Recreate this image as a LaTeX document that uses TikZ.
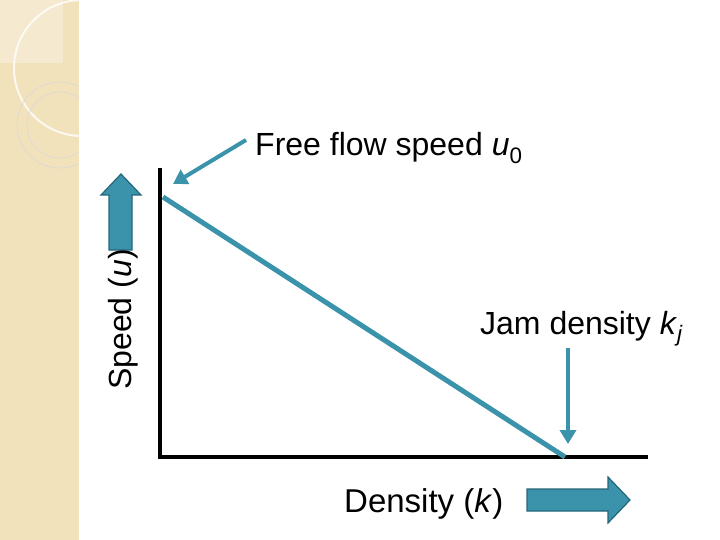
\documentclass[tikz,border=0pt]{standalone}
\usepackage{fontspec}
\setmainfont{Liberation Sans}
\usetikzlibrary{arrows.meta}
\definecolor{teal1}{RGB}{58,147,170}
\definecolor{tealdk}{RGB}{38,102,122}
\definecolor{beige}{RGB}{242,226,188}
\tikzset{lbl/.style={font=\fontsize{32}{36}\selectfont, inner sep=0pt, anchor=base west},
 blockarr/.style={fill=teal1, draw=tealdk, line width=1.2pt},
 thinarr/.style={draw=teal1, line width=4pt, -{Triangle[length=14pt,width=16pt]}}}
\begin{document}
\begin{tikzpicture}[x=1pt,y=-1pt]
\useasboundingbox (0,0) rectangle (720,540);
\fill[beige] (0,0) rectangle (79,540);
\begin{scope}
\clip (0,0) rectangle (79,540);
\fill[white,opacity=0.3] (0,0) rectangle (63,63);
\draw[white,opacity=0.8,line width=2pt] (82,68) circle (68);
\draw[black!15,line width=0.6pt] (60,125) circle (43);
\draw[black!15,line width=0.6pt] (60,125) circle (33);
\end{scope}
% axes
\coordinate (O) at (160,457);
\coordinate (ytop) at (160,168);
\coordinate (xend) at (648,457);
\draw[line width=4pt] (ytop) -- (O) -- (xend);
% speed-density line
\coordinate (u0) at (163,197);
\coordinate (kj) at (565,457);
\draw[teal1,line width=5pt] (u0) -- (kj);
% block arrows
\draw[blockarr] (527,489) -- (608,489) -- (608,477) -- (630,500) -- (608,523) -- (608,511) -- (527,511) -- cycle;
\draw[blockarr] (109,250) -- (109,195) -- (101,195) -- (121,174) -- (141,195) -- (132,195) -- (132,250) -- cycle;
% labels
\node[lbl] (ff) at (255,156) {Free flow speed \textit{u}\textsubscript{0}};
\node[lbl] (jd) at (480,334) {Jam density \textit{k}\textsubscript{\textit{j}}};
\node[lbl,font=\fontsize{33}{36}\selectfont] (den) at (344,512) {Density (\textit{k})};
\node[lbl, rotate=90] (sp) at (131,390) {Speed (\textit{u})};
% thin arrows
\coordinate (ffs) at (246,140);
\coordinate (ffe) at (173,184);
\draw[thinarr] (ffs) -- (ffe);
\coordinate (jds) at (568,348);
\coordinate (jde) at (568,444);
\draw[thinarr] (jds) -- (jde);
\end{tikzpicture}
\end{document}
